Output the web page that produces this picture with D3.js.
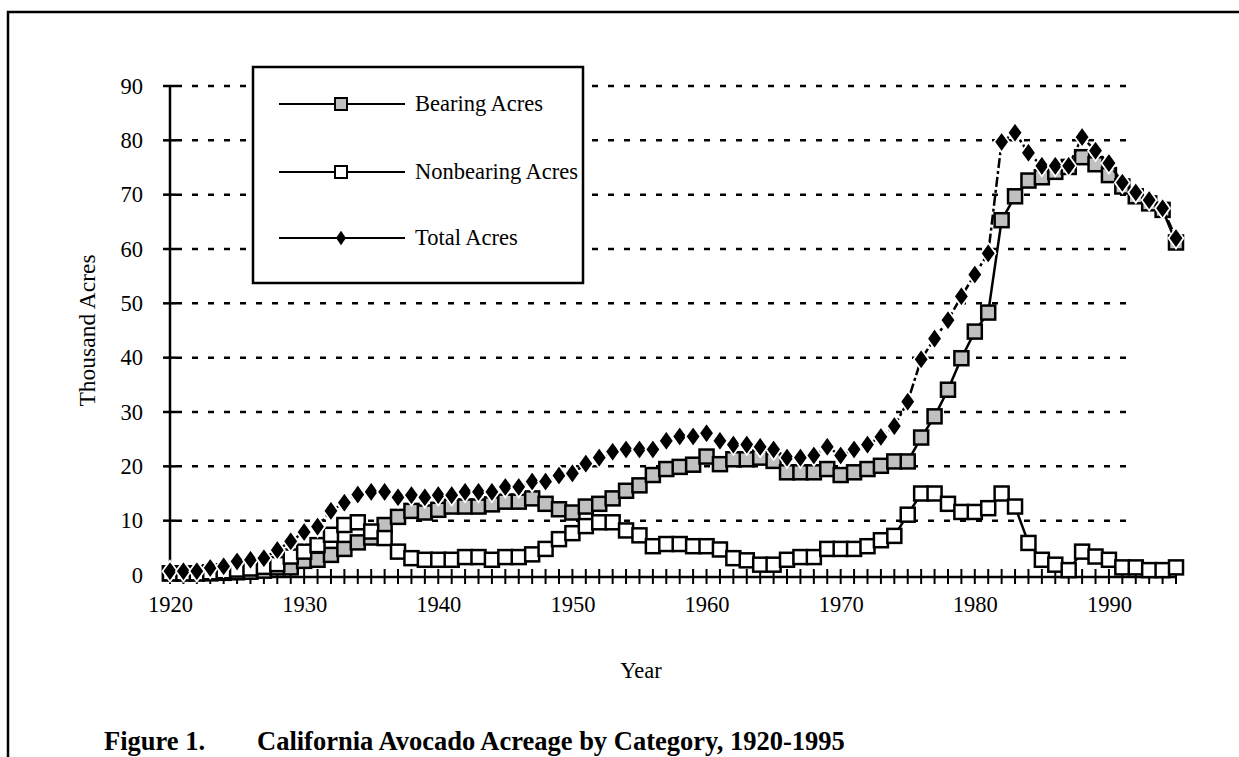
<!DOCTYPE html>
<html>
<head>
<meta charset="utf-8">
<script src="https://cdn.jsdelivr.net/npm/d3@7"></script>
<style>
  body { margin: 0; background: #fff; }
  svg { display: block; font-family: "Liberation Serif", "Times New Roman", serif; }
</style>
</head>
<body>
<div id="chart"></div>
<script>
  // data, thousand acres
  var years = d3.range(1920, 1996);
  var bearing = [0.3, 0.3, 0.3, 0.3, 0.4, 0.5, 0.6, 0.8, 1.4, 1.4,
    2.6, 2.8, 3.7, 4.8, 6.0, 6.9, 9.2, 10.7, 11.8, 11.5,
    12.0, 12.6, 12.6, 12.6, 13.0, 13.5, 13.5, 14.1, 13.1, 12.1,
    11.5, 12.6, 13.1, 14.1, 15.5, 16.5, 18.4, 19.5, 19.9, 20.3,
    21.8, 20.4, 21.3, 21.3, 21.6, 21.0, 18.9, 18.9, 18.9, 19.5,
    18.4, 18.9, 19.5, 20.1, 20.9, 20.9, 25.3, 29.2, 34.1, 39.9,
    44.8, 48.3, 65.3, 69.7, 72.6, 73.2, 74.2, 75.1, 76.9, 75.6,
    73.6, 71.5, 69.7, 68.4, 67.2, 61.2];
  var nonbearing = [0.3, 0.3, 0.3, 0.5, 0.7, 1.0, 1.2, 1.5, 2.0, 3.4,
    4.3, 5.5, 7.4, 9.2, 9.7, 8.0, 6.8, 4.3, 3.1, 2.8,
    2.8, 2.8, 3.3, 3.3, 2.8, 3.3, 3.3, 3.8, 4.8, 6.6,
    7.7, 9.0, 9.7, 9.7, 8.2, 7.3, 5.3, 5.7, 5.7, 5.3,
    5.3, 4.7, 3.1, 2.7, 1.9, 1.9, 2.8, 3.3, 3.3, 4.8,
    4.8, 4.8, 5.3, 6.4, 7.2, 11.1, 15.0, 15.0, 13.1, 11.6,
    11.6, 12.3, 15.0, 12.6, 5.9, 2.8, 1.9, 0.9, 4.3, 3.4,
    2.8, 1.4, 1.4, 0.9, 0.9, 1.4];
  var total = [0.7, 0.7, 0.7, 1.3, 1.6, 2.5, 2.8, 3.1, 4.6, 6.2,
    7.9, 8.9, 11.8, 13.3, 14.8, 15.3, 15.3, 14.3, 14.7, 14.3,
    14.7, 14.7, 15.3, 15.3, 15.3, 16.2, 16.2, 17.2, 17.2, 18.3,
    18.7, 20.5, 21.6, 22.7, 23.1, 23.1, 23.1, 24.7, 25.5, 25.5,
    26.1, 24.7, 24.0, 24.0, 23.6, 23.1, 21.6, 21.6, 22.0, 23.6,
    22.0, 23.1, 24.0, 25.4, 27.4, 31.9, 39.7, 43.5, 46.9, 51.3,
    55.3, 59.2, 79.7, 81.4, 77.7, 75.3, 75.3, 75.3, 80.6, 78.1,
    75.8, 72.2, 70.4, 69.0, 67.5, 62.0];
  var yTicks = [0, 10, 20, 30, 40, 50, 60, 70, 80, 90];
  var xLabels = [1920, 1930, 1940, 1950, 1960, 1970, 1980, 1990];
  var seriesNames = ["Bearing Acres", "Nonbearing Acres", "Total Acres"];

  var W = 1239, H = 757;
  var fs = 22.5;
  var svg = d3.select("#chart").append("svg")
      .attr("width", W)
      .attr("height", H);

  // outer frame (only top and left show inside the window)
  svg.append("path")
      .attr("d", "M8,757 L8,12 L1239,12")
      .attr("fill", "none")
      .attr("stroke", "#000")
      .attr("stroke-width", 2.5);

  var x = d3.scaleLinear().domain([1920, 1995]).range([170, 1176]);
  var y = d3.scaleLinear().domain([0, 90]).range([575, 86]);
  var gridEnd = 1135;

  // dashed gridlines
  svg.append("g").selectAll("line")
    .data(yTicks.filter(function(d){ return d > 0; }))
    .enter().append("line")
      .attr("x1", x(1920) + 6)
      .attr("x2", gridEnd)
      .attr("y1", function(d){ return y(d); })
      .attr("y2", function(d){ return y(d); })
      .attr("stroke", "#000")
      .attr("stroke-width", 2.5)
      .attr("stroke-dasharray", "6,10");

  // y axis: labels by d3.axisLeft, crossing ticks drawn by hand
  var yAxis = svg.append("g")
      .attr("transform", "translate(" + x(1920) + ",0)")
      .call(d3.axisLeft(y).tickValues(yTicks).tickSize(0).tickPadding(27));
  yAxis.select(".domain").remove();
  yAxis.selectAll("text")
      .attr("font-size", fs)
      .attr("font-family", "Liberation Serif, Times New Roman, serif")
      .attr("fill", "#000");

  svg.append("line")
      .attr("x1", x(1920)).attr("x2", x(1920))
      .attr("y1", y(90)).attr("y2", y(0))
      .attr("stroke", "#000").attr("stroke-width", 2.5);
  svg.append("g").selectAll("line")
    .data(yTicks)
    .enter().append("line")
      .attr("x1", x(1920) - 7).attr("x2", x(1920) + 6)
      .attr("y1", function(d){ return y(d); })
      .attr("y2", function(d){ return y(d); })
      .attr("stroke", "#000").attr("stroke-width", 2.5);

  // x axis
  var xAxis = svg.append("g")
      .attr("transform", "translate(0," + (y(0) + 2) + ")")
      .call(d3.axisBottom(x).tickValues(xLabels).tickFormat(d3.format("d"))
        .tickSize(0).tickPadding(19));
  xAxis.select(".domain").remove();
  xAxis.selectAll("text")
      .attr("font-size", fs)
      .attr("font-family", "Liberation Serif, Times New Roman, serif")
      .attr("fill", "#000");

  svg.append("line")
      .attr("x1", x(1920)).attr("x2", x(1995))
      .attr("y1", y(0) + 2).attr("y2", y(0) + 2)
      .attr("stroke", "#000").attr("stroke-width", 2.5);
  svg.append("g").selectAll("line")
    .data(years)
    .enter().append("line")
      .attr("x1", function(d){ return x(d); })
      .attr("x2", function(d){ return x(d); })
      .attr("y1", y(0) - 6).attr("y2", y(0) + 9)
      .attr("stroke", "#000").attr("stroke-width", 2);

  // axis titles
  svg.append("text")
      .attr("transform", "translate(95," + y(45) + ") rotate(-90)")
      .attr("text-anchor", "middle")
      .attr("font-size", 23.5)
      .text("Thousand Acres");
  svg.append("text")
      .attr("x", 641).attr("y", 678)
      .attr("text-anchor", "middle")
      .attr("font-size", fs)
      .text("Year");

  // lines
  var line = function(vals){
    return d3.line()
      .x(function(d, i){ return x(years[i]); })
      .y(function(d){ return y(d); })(vals);
  };

  var sq = 14;

  svg.append("path")
      .attr("d", line(bearing))
      .attr("fill", "none").attr("stroke", "#000").attr("stroke-width", 2.5);
  svg.append("g").selectAll("rect")
    .data(bearing)
    .enter().append("rect")
      .attr("x", function(d, i){ return x(years[i]) - sq / 2; })
      .attr("y", function(d){ return y(d) - sq / 2; })
      .attr("width", sq).attr("height", sq)
      .attr("fill", "#c0c0c0").attr("stroke", "#000").attr("stroke-width", 2.5);

  svg.append("path")
      .attr("d", line(nonbearing))
      .attr("fill", "none").attr("stroke", "#000").attr("stroke-width", 2.5);
  svg.append("g").selectAll("rect")
    .data(nonbearing)
    .enter().append("rect")
      .attr("x", function(d, i){ return x(years[i]) - sq / 2; })
      .attr("y", function(d){ return y(d) - sq / 2; })
      .attr("width", sq).attr("height", sq)
      .attr("fill", "#fff").attr("stroke", "#000").attr("stroke-width", 2.5);

  svg.append("path")
      .attr("d", line(total))
      .attr("fill", "none").attr("stroke", "#000").attr("stroke-width", 2.5)
      .attr("stroke-dasharray", "10,3,3,3");
  var diamond = d3.symbol().type(d3.symbolDiamond).size(125);
  svg.append("g").selectAll("path")
    .data(total)
    .enter().append("path")
      .attr("d", diamond)
      .attr("transform", function(d, i){
        return "translate(" + x(years[i]) + "," + y(d) + ") scale(1.25,1)";
      })
      .attr("fill", "#000").attr("stroke", "#fff").attr("stroke-width", 1.5);

  // legend
  var lg = svg.append("g");
  lg.append("rect")
      .attr("x", 253).attr("y", 67).attr("width", 330).attr("height", 216)
      .attr("fill", "#fff").attr("stroke", "#000").attr("stroke-width", 2.5);
  var rowY = [104, 172, 238];
  seriesNames.forEach(function(name, i){
    lg.append("line")
        .attr("x1", 279).attr("x2", 405)
        .attr("y1", rowY[i]).attr("y2", rowY[i])
        .attr("stroke", "#000").attr("stroke-width", 2);
    if (i < 2) {
      lg.append("rect")
          .attr("x", 341 - 6).attr("y", rowY[i] - 6)
          .attr("width", 12).attr("height", 12)
          .attr("fill", i === 0 ? "#c0c0c0" : "#fff")
          .attr("stroke", "#000").attr("stroke-width", 2);
    } else {
      lg.append("path")
          .attr("d", d3.symbol().type(d3.symbolDiamond).size(60))
          .attr("transform", "translate(341," + rowY[i] + ") scale(1.2,1)")
          .attr("fill", "#000");
    }
    lg.append("text")
        .attr("x", 415).attr("y", rowY[i] + 7)
        .attr("font-size", fs)
        .text(name);
  });

  // caption
  var cap = svg.append("text")
      .attr("x", 104).attr("y", 750)
      .attr("font-size", 26.5)
      .attr("font-weight", "bold");
  cap.append("tspan").text("Figure 1.");
  cap.append("tspan").attr("x", 257).text("California Avocado Acreage by Category, 1920-1995");
</script>
</body>
</html>
